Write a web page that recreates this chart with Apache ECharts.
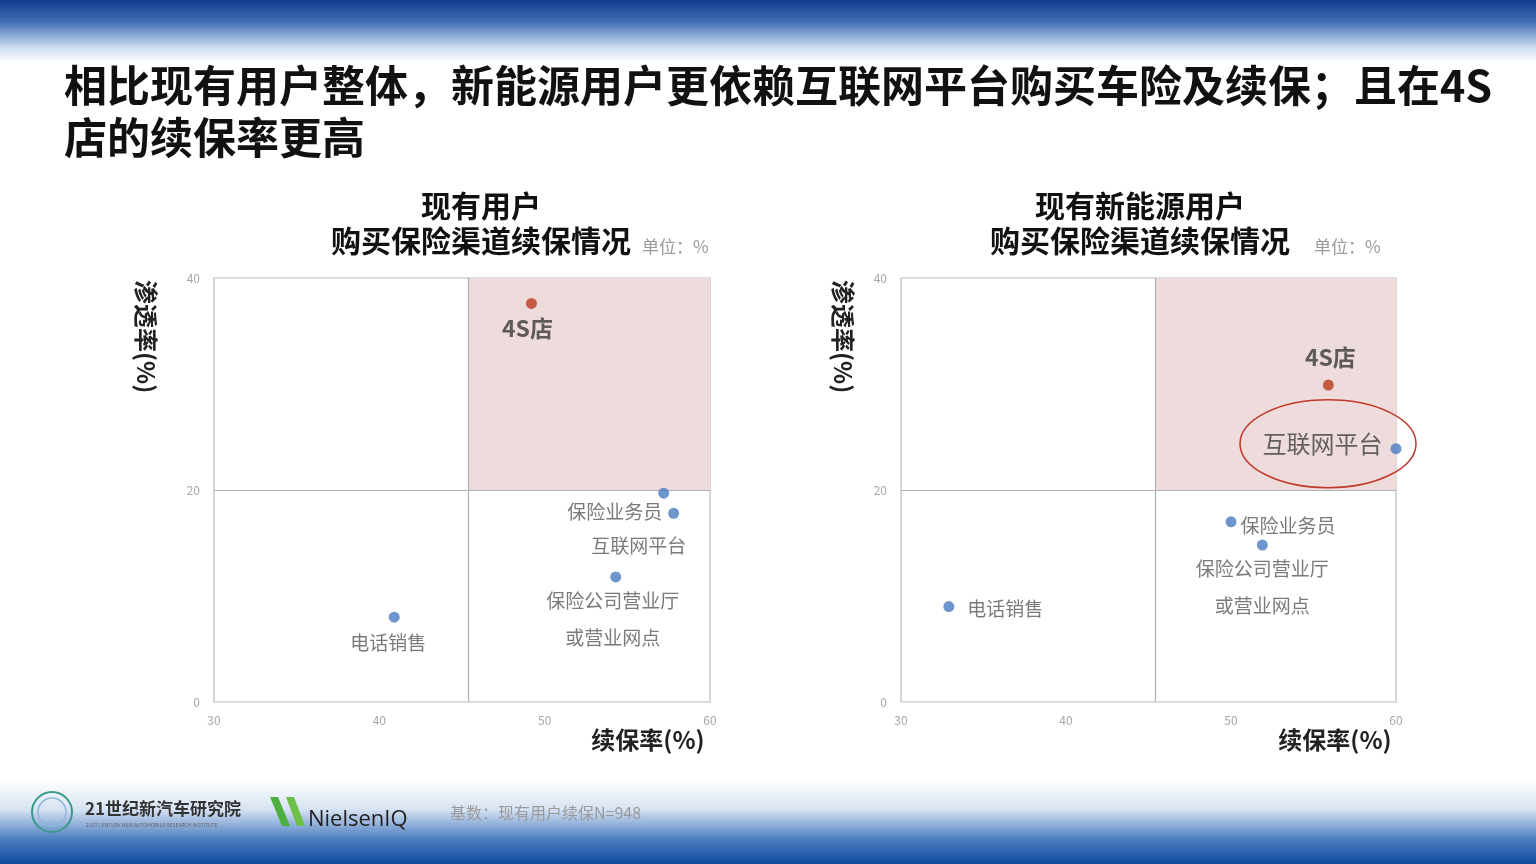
<!DOCTYPE html>
<html><head><meta charset="utf-8">
<script src="https://cdn.jsdelivr.net/npm/echarts@6/dist/echarts.min.js"></script>
<style>html,body{margin:0;padding:0;background:#fff}#c{width:1536px;height:864px}</style>
</head><body><div id="c"></div>
<script>
// ---- data ----
const channelNames = ['4S店', '保险业务员', '互联网平台', '保险公司营业厅\n或营业网点', '电话销售'];
const allUsersRenewal = [49.2, 57.2, 57.8, 54.3, 40.9];
const allUsersPenetration = [37.6, 19.7, 17.8, 11.8, 8.0];
const nevUsersRenewal = [55.9, 50.0, 60.0, 51.9, 32.9];
const nevUsersPenetration = [29.9, 17.0, 23.9, 14.8, 9.0];
const xTickMin = 30, xTickMax = 60, xTickStep = 10;
const yTickMin = 0, yTickMax = 40, yTickStep = 20;
const splitRenewal = 45.4, splitPenetration = 20;

const FONT = '"Noto Sans CJK SC","Noto Sans",sans-serif';
const BLUE = '#4a7cc1', RED = '#b8391c';
const chanColors = [RED, BLUE, BLUE, BLUE, BLUE];

const leftLabels = [
  {position: 'bottom', distance: 8, offset: [-4, 0], fontSize: 23, fontWeight: 'bold', color: '#3a3a3a'},
  {position: 'left', distance: 0, offset: [4, 19], fontSize: 19, color: '#595959'},
  {position: 'bottom', distance: 5, offset: [-35, 12], fontSize: 19, color: '#595959'},
  {position: 'bottom', distance: 0, offset: [-3, 0], fontSize: 19, color: '#595959', lineHeight: 37},
  {position: 'bottom', distance: 11, offset: [-6, 0], fontSize: 19, color: '#595959'}
];
const rightLabels = [
  {position: 'top', distance: 11, offset: [2, 0], fontSize: 23, fontWeight: 'bold', color: '#3a3a3a'},
  {position: 'right', distance: 4, offset: [0, 4], fontSize: 19, color: '#595959'},
  {position: 'left', distance: 8, offset: [0, -5], fontSize: 24, color: '#404040'},
  {position: 'bottom', distance: 0, offset: [0, 0], fontSize: 19, color: '#595959', lineHeight: 37},
  {position: 'right', distance: 13, offset: [0, 2], fontSize: 19, color: '#595959'}
];

function points(xs, ys, labels) {
  return channelNames.map((n, i) => ({
    name: n, value: [xs[i], ys[i]],
    itemStyle: {color: chanColors[i]},
    label: Object.assign({show: true, formatter: n, fontFamily: FONT}, labels[i])
  }));
}

function axisPair(idx) {
  return {
    x: {type: 'value', gridIndex: idx, min: xTickMin, max: xTickMax, interval: xTickStep,
      axisLine: {show: false}, axisTick: {show: false}, splitLine: {show: false},
      axisLabel: {color: '#a6a6a6', fontSize: 12, margin: 12, fontFamily: FONT}},
    y: {type: 'value', gridIndex: idx, min: yTickMin, max: yTickMax, interval: yTickStep,
      axisLine: {show: false}, axisTick: {show: false}, splitLine: {show: false},
      axisLabel: {color: '#a6a6a6', fontSize: 12, margin: 14, fontFamily: FONT}}
  };
}
const a0 = axisPair(0), a1 = axisPair(1);

function scatter(idx, xs, ys, labels) {
  return {
    type: 'scatter', xAxisIndex: idx, yAxisIndex: idx, symbolSize: 11, clip: false,
    data: points(xs, ys, labels), z: 5,
    markArea: {silent: true, itemStyle: {color: '#eedbdb'},
      data: [[{xAxis: splitRenewal, yAxis: splitPenetration}, {xAxis: xTickMax, yAxis: yTickMax}]]},
    markLine: {silent: true, symbol: 'none', label: {show: false},
      lineStyle: {color: '#b0b0b0', type: 'solid', width: 1.2},
      data: [{xAxis: splitRenewal}, {yAxis: splitPenetration}]}
  };
}

const bgGraphics = [
  {type: 'rect', shape: {x: 0, y: 0, width: 1536, height: 62}, z: -10, silent: true,
    style: {fill: new echarts.graphic.LinearGradient(0, 0, 0, 1, [
      {offset: 0, color: '#0f3c8c'}, {offset: 0.35, color: '#3f6fb5'}, {offset: 0.75, color: '#c9d8ee'}, {offset: 1, color: '#ffffff'}])}},
  {type: 'rect', shape: {x: 0, y: 780, width: 1536, height: 84}, z: -10, silent: true,
    style: {fill: new echarts.graphic.LinearGradient(0, 0, 0, 1, [
      {offset: 0, color: '#ffffff'}, {offset: 0.35, color: '#d7e3f3'}, {offset: 0.7, color: '#4d7fc1'}, {offset: 1, color: '#0e4a9c'}])}},
  // main title
  {type: 'text', left: 64, top: 64, style: {text: '相比现有用户整体，新能源用户更依赖互联网平台购买车险及续保；且在4S', font: 'bold 43px ' + FONT, fill: '#111'}},
  {type: 'text', left: 64, top: 116, style: {text: '店的续保率更高', font: 'bold 43px ' + FONT, fill: '#111'}},
  // chart titles
  {type: 'text', x: 481, y: 206, style: {text: '现有用户', font: 'bold 30px ' + FONT, fill: '#111', textAlign: 'center', textVerticalAlign: 'middle'}},
  {type: 'text', x: 481, y: 241, style: {text: '购买保险渠道续保情况', font: 'bold 30px ' + FONT, fill: '#111', textAlign: 'center', textVerticalAlign: 'middle'}},
  {type: 'text', x: 642, y: 247, style: {text: '单位：%', font: '17px ' + FONT, fill: '#9a9a9a', textVerticalAlign: 'middle'}},
  {type: 'text', x: 1140, y: 206, style: {text: '现有新能源用户', font: 'bold 30px ' + FONT, fill: '#111', textAlign: 'center', textVerticalAlign: 'middle'}},
  {type: 'text', x: 1140, y: 241, style: {text: '购买保险渠道续保情况', font: 'bold 30px ' + FONT, fill: '#111', textAlign: 'center', textVerticalAlign: 'middle'}},
  {type: 'text', x: 1314, y: 247, style: {text: '单位：%', font: '17px ' + FONT, fill: '#9a9a9a', textVerticalAlign: 'middle'}},
  // axis names
  {type: 'text', x: 146, y: 280, rotation: -Math.PI / 2, style: {text: '渗透率(%)', font: 'bold 24px ' + FONT, fill: '#222', textVerticalAlign: 'middle'}},
  {type: 'text', x: 843, y: 280, rotation: -Math.PI / 2, style: {text: '渗透率(%)', font: 'bold 24px ' + FONT, fill: '#222', textVerticalAlign: 'middle'}},
  {type: 'text', x: 648, y: 740, style: {text: '续保率(%)', font: 'bold 24px ' + FONT, fill: '#222', textAlign: 'center', textVerticalAlign: 'middle'}},
  {type: 'text', x: 1335, y: 740, style: {text: '续保率(%)', font: 'bold 24px ' + FONT, fill: '#222', textAlign: 'center', textVerticalAlign: 'middle'}},
  // footer
  {type: 'circle', shape: {cx: 52, cy: 812, r: 20}, style: {fill: 'none', stroke: '#3a9a8a', lineWidth: 2}},
  {type: 'circle', shape: {cx: 52, cy: 812, r: 14}, style: {fill: 'none', stroke: '#8fb8d8', lineWidth: 1.5}},
  {type: 'text', x: 85, y: 809, style: {text: '21世纪新汽车研究院', font: 'bold 17px ' + FONT, fill: '#333', textVerticalAlign: 'middle'}},
  {type: 'text', x: 86, y: 825, style: {text: '21ST CENTURY NEW AUTOMOBILE RESEARCH INSTITUTE', font: '5px ' + FONT, fill: '#666', textVerticalAlign: 'middle'}},
  {type: 'polygon', shape: {points: [[270, 797], [278, 797], [290, 826], [282, 826]]}, style: {fill: '#4caf3f'}},
  {type: 'polygon', shape: {points: [[286, 797], [294, 797], [305, 826], [297, 826]]}, style: {fill: '#6cc04a'}},
  {type: 'text', x: 308, y: 820, style: {text: 'NielsenIQ', font: '22px "Open Sans",' + FONT, fill: '#222', textVerticalAlign: 'middle'}},
  {type: 'text', x: 450, y: 813, style: {text: '基数：现有用户续保N=948', font: '16px ' + FONT, fill: '#9a9a9a', textVerticalAlign: 'middle'}}
];

const chart = echarts.init(document.getElementById('c'), null, {renderer: 'canvas'});
chart.setOption({
  animation: false,
  backgroundColor: '#ffffff',
  grid: [
    {left: 214, top: 278, width: 496, height: 424, show: true, borderColor: '#bcbcbc', borderWidth: 1.2, backgroundColor: 'transparent'},
    {left: 901, top: 278, width: 495, height: 424, show: true, borderColor: '#bcbcbc', borderWidth: 1.2, backgroundColor: 'transparent'}
  ],
  xAxis: [a0.x, a1.x],
  yAxis: [a0.y, a1.y],
  series: [
    scatter(0, allUsersRenewal, allUsersPenetration, leftLabels),
    scatter(1, nevUsersRenewal, nevUsersPenetration, rightLabels)
  ],
  graphic: bgGraphics
});

// highlight ellipse around the internet-platform point of the NEV chart
const p = chart.convertToPixel({xAxisIndex: 1, yAxisIndex: 1}, [nevUsersRenewal[2], nevUsersPenetration[2]]);
chart.setOption({graphic: bgGraphics.concat([
  {type: 'ellipse', shape: {cx: p[0] - 68, cy: p[1] - 5, rx: 88, ry: 44}, z: 10,
    style: {fill: 'none', stroke: '#c0392b', lineWidth: 1.5}}
])});
</script></body></html>
